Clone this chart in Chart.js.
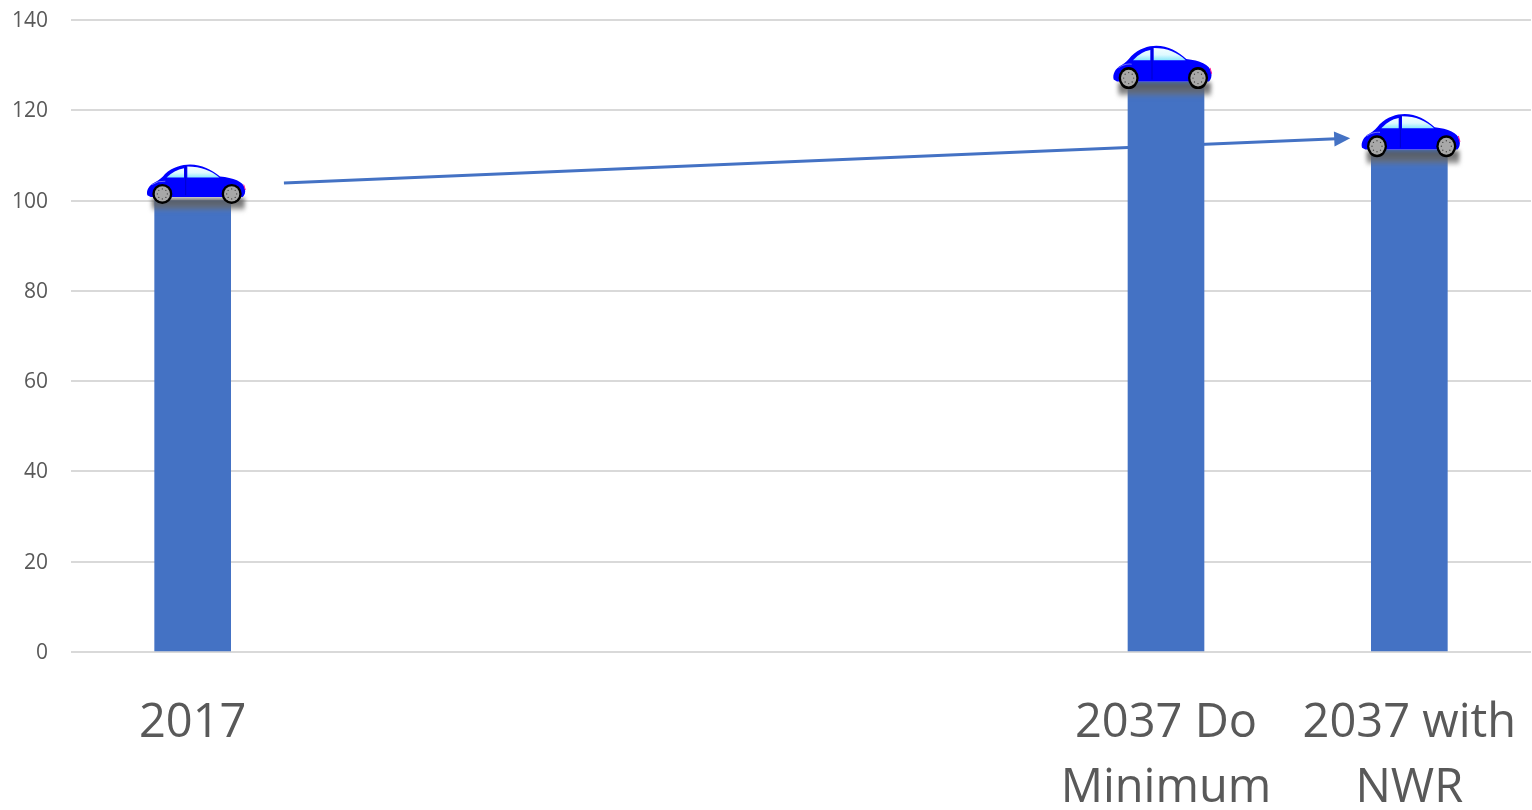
<!DOCTYPE html>
<html>
<head>
<meta charset="utf-8">
<title>Chart</title>
<script src="https://cdn.jsdelivr.net/npm/chart.js@4/dist/chart.umd.min.js"></script>
<style>
	html, body { margin: 0; padding: 0; background: #fff; }
	canvas { display: block; }
</style>
</head>
<body>
<canvas id="traffic-chart" width="1532" height="810"></canvas>
<script>
// blank slots keep the 20 year gap between the bars
var categories = [['2017'], '', '', '', ['2037 Do', 'Minimum'], ['2037 with', 'NWR']];
var values = [100, null, null, null, 126.3, 111.2];
var yTicks = [0, 20, 40, 60, 80, 100, 120, 140];

// arrow ends, in axis units (category index, y value)
var arrowX = [0.375, 4.757];
var arrowY = [103.9, 113.8];

var barColor = '#4472C4';
var gridColor = '#D9D9D9';
var textColor = '#595959';

// car art is drawn in a 3x grid and scaled down, nudge and stretch are per bar
var carNudge = [3, 0, 0, 0, -4, 1];
var carStretch = [1, 1, 1, 1, 1.1, 1.1];

function drawCar(ctx, cx, top, stretch) {
	ctx.save();
	ctx.translate(cx - 49, top - 36);
	ctx.scale(1 / 3, stretch / 3);

	// shadow under the car
	ctx.save();
	ctx.filter = 'blur(2px)';
	var shade = ctx.createLinearGradient(0, 100, 0, 140);
	shade.addColorStop(0, 'rgba(85,85,85,0.9)');
	shade.addColorStop(0.65, 'rgba(105,105,105,0.8)');
	shade.addColorStop(1, 'rgba(120,120,120,0.1)');
	ctx.fillStyle = shade;
	ctx.fillRect(16, 100, 278, 40);
	ctx.restore();

	// body
	ctx.beginPath();
	ctx.moveTo(2, 92);
	ctx.bezierCurveTo(-2, 78, 6, 62, 25, 53);
	ctx.bezierCurveTo(38, 46, 47, 38, 55, 28);
	ctx.bezierCurveTo(78, 8, 105, 0, 130, 0);
	ctx.bezierCurveTo(165, 0, 195, 16, 220, 36);
	ctx.bezierCurveTo(260, 40, 290, 50, 295, 73);
	ctx.bezierCurveTo(297, 84, 294, 92, 288, 97);
	ctx.lineTo(12, 97);
	ctx.closePath();
	ctx.fillStyle = '#0000FF';
	ctx.fill();

	// tail light
	ctx.strokeStyle = '#FF1493';
	ctx.lineWidth = 3;
	ctx.beginPath();
	ctx.moveTo(291, 60);
	ctx.lineTo(296, 76);
	ctx.stroke();

	// highlight over the front wheel
	ctx.strokeStyle = '#6A6AFF';
	ctx.lineWidth = 3;
	ctx.beginPath();
	ctx.moveTo(16, 60);
	ctx.quadraticCurveTo(34, 48, 56, 50);
	ctx.stroke();

	// windows
	var glass = ctx.createLinearGradient(0, 6, 0, 40);
	glass.addColorStop(0, '#F4FEFF');
	glass.addColorStop(0.55, '#DDF9FF');
	glass.addColorStop(1, '#86E6FA');
	ctx.fillStyle = glass;
	ctx.beginPath();
	ctx.moveTo(60, 39);
	ctx.lineTo(112, 39);
	ctx.lineTo(112, 11);
	ctx.quadraticCurveTo(82, 16, 60, 39);
	ctx.closePath();
	ctx.fill();
	ctx.beginPath();
	ctx.moveTo(122, 39);
	ctx.lineTo(218, 39);
	ctx.bezierCurveTo(192, 18, 165, 6, 122, 6);
	ctx.closePath();
	ctx.fill();

	// door line
	ctx.strokeStyle = '#0000B0';
	ctx.lineWidth = 2;
	ctx.beginPath();
	ctx.moveTo(117, 4);
	ctx.lineTo(117, 92);
	ctx.stroke();

	[47, 255].forEach(function (wx) {
		ctx.beginPath();
		ctx.arc(wx, 88, 30, 0, Math.PI * 2);
		ctx.fillStyle = '#000';
		ctx.fill();
		ctx.beginPath();
		ctx.arc(wx, 88, 23, 0, Math.PI * 2);
		ctx.fillStyle = '#A8A8A8';
		ctx.fill();
		ctx.fillStyle = '#444';
		for (var i = 0; i < 8; i++) {
			var a = i * Math.PI / 4;
			ctx.beginPath();
			ctx.arc(wx + Math.cos(a) * 15, 88 + Math.sin(a) * 15, 2, 0, Math.PI * 2);
			ctx.fill();
		}
	});
	ctx.restore();
}

// arrow sits behind the bars
var arrowPlugin = {
	id: 'arrow',
	beforeDatasetsDraw: function (chart) {
		var ctx = chart.ctx;
		var x0 = chart.scales.x.getPixelForValue(arrowX[0]);
		var x1 = chart.scales.x.getPixelForValue(arrowX[1]);
		var y0 = chart.scales.y.getPixelForValue(arrowY[0]);
		var y1 = chart.scales.y.getPixelForValue(arrowY[1]);
		var a = Math.atan2(y1 - y0, x1 - x0);

		ctx.save();
		ctx.strokeStyle = barColor;
		ctx.fillStyle = barColor;
		ctx.lineWidth = 3;
		ctx.beginPath();
		ctx.moveTo(x0, y0);
		ctx.lineTo(x1 - 14 * Math.cos(a), y1 - 14 * Math.sin(a));
		ctx.stroke();
		ctx.translate(x1, y1);
		ctx.rotate(a);
		ctx.beginPath();
		ctx.moveTo(0, 0);
		ctx.lineTo(-16, -7.5);
		ctx.lineTo(-16, 7.5);
		ctx.closePath();
		ctx.fill();
		ctx.restore();
	}
};

// cars parked on top of each bar
var carPlugin = {
	id: 'cars',
	afterDatasetsDraw: function (chart) {
		chart.getDatasetMeta(0).data.forEach(function (bar, i) {
			if (values[i] !== null) {
				drawCar(chart.ctx, bar.x + carNudge[i], bar.y, carStretch[i]);
			}
		});
	}
};

new Chart('traffic-chart', {
	type: 'bar',
	data: {
		labels: categories,
		datasets: [{
			data: values,
			backgroundColor: barColor,
			barThickness: 76
		}]
	},
	options: {
		responsive: false,
		animation: false,
		layout: { padding: { top: 20, right: 1, left: 0, bottom: 0 } },
		plugins: {
			legend: { display: false },
			tooltip: { enabled: false }
		},
		scales: {
			x: {
				grid: { display: false },
				border: { display: false },
				afterFit: function (scale) {
					scale.height = 158;
					scale.paddingLeft = 0;
					scale.paddingRight = 0;
				},
				ticks: {
					color: textColor,
					font: { family: '"Open Sans"', size: 47, lineHeight: 1.383 },
					padding: 31,
					maxRotation: 0,
					minRotation: 0,
					autoSkip: false
				}
			},
			y: {
				min: 0,
				max: 140,
				afterFit: function (scale) {
					scale.width = 71;
					scale.paddingTop = 0;
					scale.paddingBottom = 0;
				},
				afterBuildTicks: function (scale) {
					scale.ticks = yTicks.map(function (v) { return { value: v }; });
				},
				grid: { color: gridColor, lineWidth: 2, drawTicks: false },
				border: { display: false },
				ticks: {
					color: textColor,
					font: { family: '"Open Sans"', size: 21 },
					labelOffset: 1,
					padding: 23
				}
			}
		}
	},
	plugins: [arrowPlugin, carPlugin]
});
</script>
</body>
</html>
